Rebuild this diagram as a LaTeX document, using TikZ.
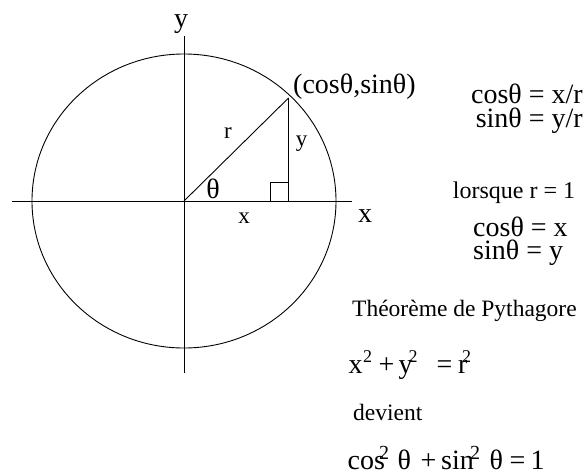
\documentclass[tikz,border=0pt]{standalone}
\usepackage{fontspec}
\setmainfont{Liberation Serif}
\newcommand{\supa}{\raisebox{11pt}{\fontsize{18}{18}\selectfont 2}}
\newcommand{\supb}{\raisebox{10pt}{\fontsize{20}{20}\selectfont 2}}
\newcommand{\putat}[2]{\rlap{\hspace{#1pt}#2}}
\begin{document}
\begin{tikzpicture}[x=1pt,y=-1pt,
  line/.style={line width=0.9pt},
  big/.style={inner sep=0pt,font=\fontsize{28}{30}\selectfont},
  small/.style={inner sep=0pt,font=\fontsize{23.5}{26}\selectfont},
  lab/.style={inner sep=0pt,font=\fontsize{23}{25}\selectfont}]
\useasboundingbox (0,0) rectangle (587,474);
% axes
\coordinate (O) at (184,201);
\coordinate (xl) at (12,201);
\coordinate (xr) at (352,201);
\coordinate (yt) at (184,36);
\coordinate (yb) at (184,373);
\draw[line] (xl) -- (xr);
\draw[line] (yt) -- (yb);
% circle
\draw[line] (O) ellipse [x radius=152, y radius=147];
% triangle
\coordinate (P) at (288.5,98);
\coordinate (F) at (288.5,201);
\draw[line] (O) -- (P);
\draw[line] (P) -- (F);
\draw[line] (270,201) rectangle (288.5,182.7);
% axis labels
\node[big,anchor=base] (ylab) at (181,27) {y};
\node[big,anchor=base] (xlab) at (365,222) {x};
\node[big,anchor=base west] (Plab) at (293,93) {(cosθ,sinθ)};
\node[lab,anchor=base] (rlab) at (228,138) {r};
\node[lab,anchor=base] (ylab2) at (301.5,146.5) {y};
\node[big,anchor=base] (thlab) at (213,198) {θ};
\node[lab,anchor=base] (xlab2) at (244,223) {x};
% right column
\node[big,anchor=base east] (e1) at (583,103) {cosθ = x/r};
\node[big,anchor=base east] (e2) at (583,127) {sinθ = y/r};
\node[small,anchor=base west,font=\fontsize{24}{26}\selectfont] (e3) at (452.7,198) {lorsque r = 1};
\node[big,anchor=base west] (e4) at (473,236) {cosθ = x};
\node[big,anchor=base west] (e5) at (473,259) {sinθ = y};
\node[small,anchor=base west] (e6) at (352,316.7) {Théorème de Pythagore};
\node[big,anchor=base west] (e7) at (348,373.5) {\putat{0}{x}\putat{14.5}{\supa}\putat{30}{+}\putat{50}{y}\putat{60}{\supa}\putat{88}{=}\putat{109.5}{r}\putat{113.5}{\supa}\hspace{122pt}};
\node[small,anchor=base west] (e8) at (353,420) {devient};
\node[big,anchor=base west] (e9) at (347,469.3) {\putat{0}{cos}\putat{31.5}{\supb}\putat{50}{θ}\putat{73}{+}\putat{93.5}{sin}\putat{122.5}{\supb}\putat{142}{θ}\putat{162}{=}\putat{183}{1}\hspace{199pt}};
\end{tikzpicture}
\end{document}
